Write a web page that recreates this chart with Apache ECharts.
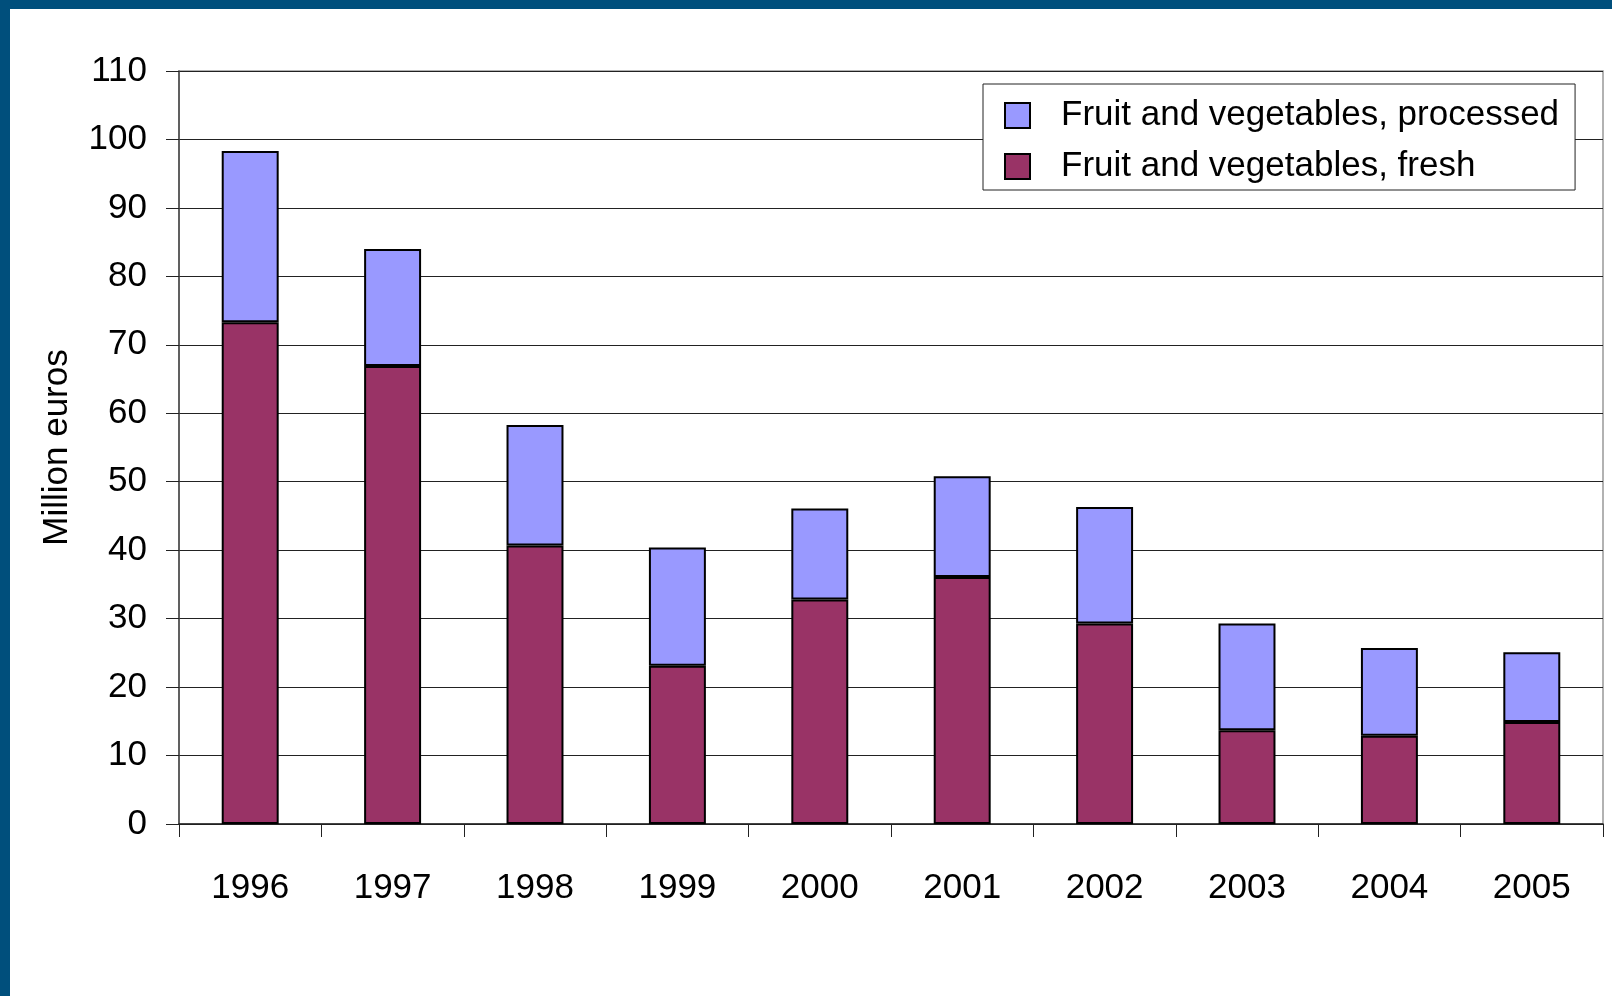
<!DOCTYPE html>
<html>
<head>
<meta charset="utf-8">
<script src="https://cdn.jsdelivr.net/npm/echarts@6/dist/echarts.min.js"></script>
<style>
  html, body { margin: 0; padding: 0; background: #fff; }
  #chart { width: 1612px; height: 996px; }
</style>
</head>
<body>
<div id="chart"></div>
<script>
// years on the x axis
const years = ['1996', '1997', '1998', '1999', '2000', '2001', '2002', '2003', '2004', '2005'];
// million euros
const fresh     = [73.3, 66.9, 40.7, 23.1, 32.8, 36.1, 29.3, 13.7, 12.9, 14.9];
const processed = [25.0, 17.1, 17.6, 17.3, 13.3, 14.7, 17.0, 15.6, 12.8, 10.2];

const FONT = "'Liberation Sans', Arial, sans-serif";
const FRAME = '#004f7c';

const chart = echarts.init(document.getElementById('chart'), null, { renderer: 'canvas' });

chart.setOption({
  backgroundColor: '#fff',
  animation: false,
  textStyle: { fontFamily: FONT, color: '#000' },
  graphic: [
    // blue slide frame, top and left
    { type: 'rect', left: 0, top: 0, shape: { width: 1612, height: 9 }, style: { fill: FRAME }, z: 100 },
    { type: 'rect', left: 0, top: 0, shape: { width: 10, height: 996 }, style: { fill: FRAME }, z: 100 },
  ],
  grid: {
    left: 179, top: 71, right: 9, bottom: 172,
    show: true,
    borderColor: '#999',
    borderWidth: 1.5,
  },
  legend: {
    data: ['Fruit and vegetables, processed', 'Fruit and vegetables, fresh'],
    orient: 'vertical',
    left: 983,
    top: 84,
    padding: [14, 16, 6, 21],
    icon: 'rect',
    itemWidth: 25,
    itemHeight: 25,
    itemGap: 16,
    backgroundColor: '#fff',
    borderColor: '#222',
    borderWidth: 1,
    textStyle: { fontFamily: FONT, fontSize: 35, lineHeight: 35, color: '#000', padding: [0, 0, 0, 26] },
  },
  xAxis: {
    type: 'category',
    data: years,
    axisLine: { lineStyle: { color: '#222', width: 1.5 } },
    axisTick: { show: true, length: 13, lineStyle: { color: '#222' } },
    axisLabel: { fontFamily: FONT, fontSize: 35, color: '#000', margin: 47 },
  },
  yAxis: {
    type: 'value',
    min: 0,
    max: 110,
    interval: 10,
    name: 'Million euros',
    nameLocation: 'middle',
    nameGap: 104,
    nameTextStyle: { fontFamily: FONT, fontSize: 35, color: '#000' },
    axisLine: { show: true, lineStyle: { color: '#444', width: 1.5 } },
    axisTick: { show: true, length: 13, lineStyle: { color: '#222' } },
    axisLabel: { fontFamily: FONT, fontSize: 35, color: '#000', margin: 32 },
    splitLine: { show: true, lineStyle: { color: '#222', width: 1 } },
  },
  series: [
    {
      name: 'Fruit and vegetables, fresh',
      type: 'bar',
      stack: 'total',
      data: fresh,
      barWidth: '40%',
      itemStyle: { color: '#993366', borderColor: '#000', borderWidth: 2 },
    },
    {
      name: 'Fruit and vegetables, processed',
      type: 'bar',
      stack: 'total',
      data: processed,
      barWidth: '40%',
      itemStyle: { color: '#9999ff', borderColor: '#000', borderWidth: 2 },
    },
  ],
});
</script>
</body>
</html>
